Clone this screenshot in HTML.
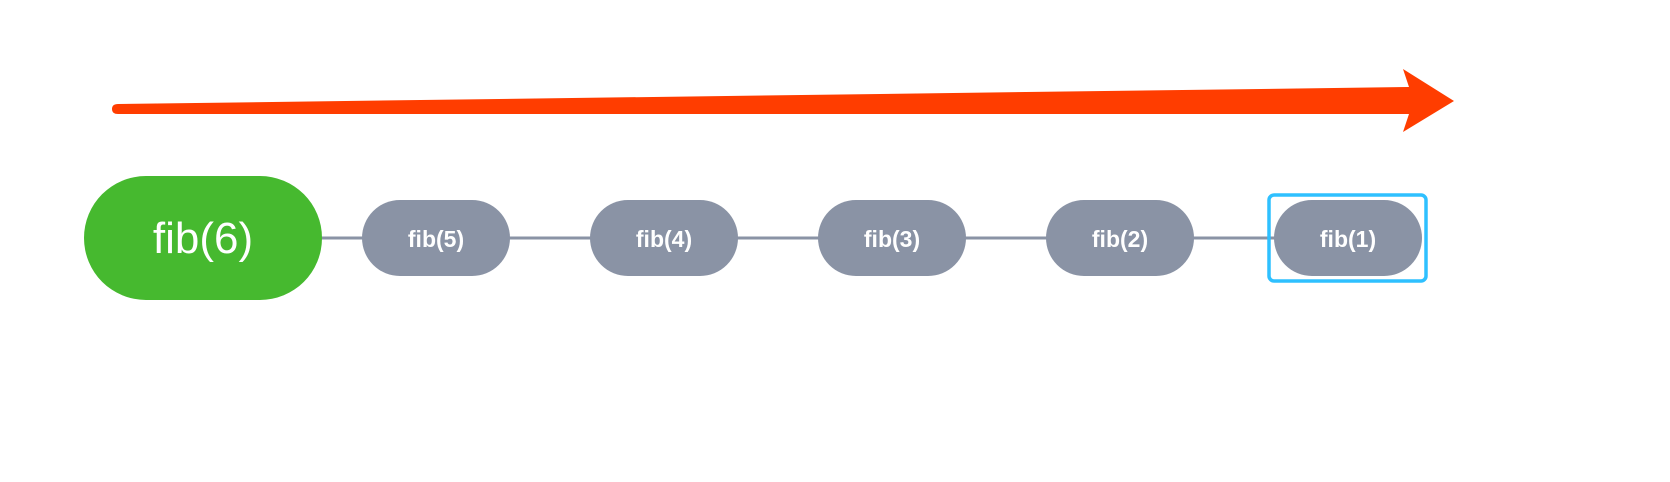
<!DOCTYPE html>
<html><head><meta charset="utf-8"><style>
html,body{margin:0;padding:0;background:#fff;width:1670px;height:482px;overflow:hidden}
</style></head><body>
<svg width="1670" height="482" xmlns="http://www.w3.org/2000/svg">
<line x1="300" y1="238" x2="1290" y2="238" stroke="#8a93a5" stroke-width="3"/>
<path d="M118,104 L1409,87 L1403,69 L1454,101 L1403,132 L1409,114 L118,114 Q112,114 112,109 Q112,104 118,104 Z" fill="#ff3d00"/>
<rect x="84" y="176" width="238" height="124" rx="62" ry="62" fill="#46b92f"/>
<text x="203" y="253" font-family="Liberation Sans, sans-serif" font-size="44" fill="#fff" text-anchor="middle">fib(6)</text>
<g font-family="Liberation Sans, sans-serif" font-size="23" font-weight="bold" fill="#fff" text-anchor="middle">
<rect x="362" y="200" width="148" height="76" rx="38" fill="#8a93a5"/><text x="436" y="247">fib(5)</text>
<rect x="590" y="200" width="148" height="76" rx="38" fill="#8a93a5"/><text x="664" y="247">fib(4)</text>
<rect x="818" y="200" width="148" height="76" rx="38" fill="#8a93a5"/><text x="892" y="247">fib(3)</text>
<rect x="1046" y="200" width="148" height="76" rx="38" fill="#8a93a5"/><text x="1120" y="247">fib(2)</text>
<rect x="1274" y="200" width="148" height="76" rx="38" fill="#8a93a5"/><text x="1348" y="247">fib(1)</text>
</g>
<rect x="1269" y="195" width="157" height="86" rx="5" fill="none" stroke="#2ec0ff" stroke-width="3.5"/>
</svg>
</body></html>
